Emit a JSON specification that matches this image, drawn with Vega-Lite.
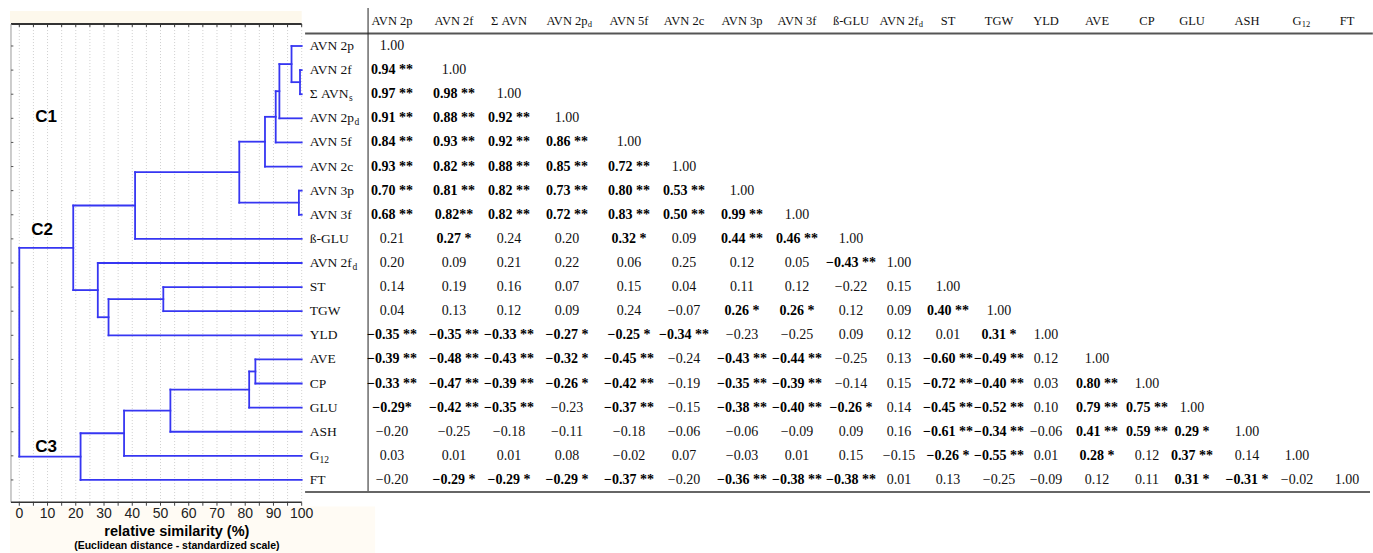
{
"$schema":"https://vega.github.io/schema/vega-lite/v6.json",
"width":1373,"height":553,"padding":0,"autosize":{"type":"none"},
"background":"#ffffff",
"config":{"view":{"stroke":null}},
"datasets":{
"leaves":[{"r":0,"name":"AVN 2p"},{"r":1,"name":"AVN 2f"},{"r":2,"name":"Σ AVN","sub":"s"},{"r":3,"name":"AVN 2p","sub":"d"},{"r":4,"name":"AVN 5f"},{"r":5,"name":"AVN 2c"},{"r":6,"name":"AVN 3p"},{"r":7,"name":"AVN 3f"},{"r":8,"name":"ß-GLU"},{"r":9,"name":"AVN 2f","sub":"d"},{"r":10,"name":"ST"},{"r":11,"name":"TGW"},{"r":12,"name":"YLD"},{"r":13,"name":"AVE"},{"r":14,"name":"CP"},{"r":15,"name":"GLU"},{"r":16,"name":"ASH"},{"r":17,"name":"G","sub":"12"},{"r":18,"name":"FT"}],
"cols":[{"j":0,"name":"AVN 2p"},{"j":1,"name":"AVN 2f"},{"j":2,"name":"Σ AVN"},{"j":3,"name":"AVN 2p","sub":"d"},{"j":4,"name":"AVN 5f"},{"j":5,"name":"AVN 2c"},{"j":6,"name":"AVN 3p"},{"j":7,"name":"AVN 3f"},{"j":8,"name":"ß-GLU"},{"j":9,"name":"AVN 2f","sub":"d"},{"j":10,"name":"ST"},{"j":11,"name":"TGW"},{"j":12,"name":"YLD"},{"j":13,"name":"AVE"},{"j":14,"name":"CP"},{"j":15,"name":"GLU"},{"j":16,"name":"ASH"},{"j":17,"name":"G","sub":"12"},{"j":18,"name":"FT"}],
"grid":[{"s":0},{"s":5},{"s":10},{"s":15},{"s":20},{"s":25},{"s":30},{"s":35},{"s":40},{"s":45},{"s":50},{"s":55},{"s":60},{"s":65},{"s":70},{"s":75},{"s":80},{"s":85},{"s":90},{"s":95},{"s":100}],
"clusters":[{"name":"C1","s":9.45,"r":2.94},{"name":"C2","s":8.04,"r":7.63},{"name":"C3","s":9.45,"r":16.63}],
"seg":[
{"x":100,"x2":96.4,"y":0,"y2":0},{"x":100,"x2":99.4,"y":1,"y2":1},{"x":100,"x2":99.4,"y":2,"y2":2},{"x":100,"x2":92.1,"y":3,"y2":3},{"x":100,"x2":90.8,"y":4,"y2":4},{"x":100,"x2":87.0,"y":5,"y2":5},{"x":100,"x2":99.0,"y":6,"y2":6},{"x":100,"x2":99.0,"y":7,"y2":7},{"x":100,"x2":41.0,"y":8,"y2":8},{"x":100,"x2":27.8,"y":9,"y2":9},{"x":100,"x2":51.0,"y":10,"y2":10},{"x":100,"x2":51.0,"y":11,"y2":11},{"x":100,"x2":31.6,"y":12,"y2":12},{"x":100,"x2":83.6,"y":13,"y2":13},{"x":100,"x2":83.6,"y":14,"y2":14},{"x":100,"x2":81.4,"y":15,"y2":15},{"x":100,"x2":53.5,"y":16,"y2":16},{"x":100,"x2":37.1,"y":17,"y2":17},{"x":100,"x2":21.7,"y":18,"y2":18},
{"x":99.4,"x2":96.4,"y":1.5,"y2":1.5},{"x":96.4,"x2":92.1,"y":0.75,"y2":0.75},{"x":92.1,"x2":90.8,"y":1.875,"y2":1.875},{"x":90.8,"x2":87.0,"y":2.9375,"y2":2.9375},{"x":87.0,"x2":77.9,"y":3.969,"y2":3.969},{"x":99.0,"x2":77.9,"y":6.5,"y2":6.5},{"x":77.9,"x2":41.0,"y":5.234,"y2":5.234},{"x":41.0,"x2":19.1,"y":6.617,"y2":6.617},{"x":51.0,"x2":31.6,"y":10.5,"y2":10.5},{"x":31.6,"x2":27.8,"y":11.25,"y2":11.25},{"x":27.8,"x2":19.1,"y":10.125,"y2":10.125},{"x":19.1,"x2":0,"y":8.371,"y2":8.371},{"x":83.6,"x2":81.4,"y":13.5,"y2":13.5},{"x":81.4,"x2":53.5,"y":14.25,"y2":14.25},{"x":53.5,"x2":37.1,"y":15.125,"y2":15.125},{"x":37.1,"x2":21.7,"y":16.063,"y2":16.063},{"x":21.7,"x2":0,"y":17.031,"y2":17.031},
{"x":99.4,"x2":99.4,"y":1,"y2":2},{"x":96.4,"x2":96.4,"y":0,"y2":1.5},{"x":92.1,"x2":92.1,"y":0.75,"y2":3},{"x":90.8,"x2":90.8,"y":1.875,"y2":4},{"x":87.0,"x2":87.0,"y":2.9375,"y2":5},{"x":99.0,"x2":99.0,"y":6,"y2":7},{"x":77.9,"x2":77.9,"y":3.969,"y2":6.5},{"x":41.0,"x2":41.0,"y":5.234,"y2":8},{"x":51.0,"x2":51.0,"y":10,"y2":11},{"x":31.6,"x2":31.6,"y":10.5,"y2":12},{"x":27.8,"x2":27.8,"y":9,"y2":11.25},{"x":19.1,"x2":19.1,"y":6.617,"y2":10.125},{"x":83.6,"x2":83.6,"y":13,"y2":14},{"x":81.4,"x2":81.4,"y":13.5,"y2":15},{"x":53.5,"x2":53.5,"y":14.25,"y2":16},{"x":37.1,"x2":37.1,"y":15.125,"y2":17},{"x":21.7,"x2":21.7,"y":16.063,"y2":18},{"x":0,"x2":0,"y":8.371,"y2":17.031}],
"cells":[
{"i":0,"j":0,"t":"1.00"},
{"i":1,"j":0,"t":"0.94 **"},{"i":1,"j":1,"t":"1.00"},
{"i":2,"j":0,"t":"0.97 **"},{"i":2,"j":1,"t":"0.98 **"},{"i":2,"j":2,"t":"1.00"},
{"i":3,"j":0,"t":"0.91 **"},{"i":3,"j":1,"t":"0.88 **"},{"i":3,"j":2,"t":"0.92 **"},{"i":3,"j":3,"t":"1.00"},
{"i":4,"j":0,"t":"0.84 **"},{"i":4,"j":1,"t":"0.93 **"},{"i":4,"j":2,"t":"0.92 **"},{"i":4,"j":3,"t":"0.86 **"},{"i":4,"j":4,"t":"1.00"},
{"i":5,"j":0,"t":"0.93 **"},{"i":5,"j":1,"t":"0.82 **"},{"i":5,"j":2,"t":"0.88 **"},{"i":5,"j":3,"t":"0.85 **"},{"i":5,"j":4,"t":"0.72 **"},{"i":5,"j":5,"t":"1.00"},
{"i":6,"j":0,"t":"0.70 **"},{"i":6,"j":1,"t":"0.81 **"},{"i":6,"j":2,"t":"0.82 **"},{"i":6,"j":3,"t":"0.73 **"},{"i":6,"j":4,"t":"0.80 **"},{"i":6,"j":5,"t":"0.53 **"},{"i":6,"j":6,"t":"1.00"},
{"i":7,"j":0,"t":"0.68 **"},{"i":7,"j":1,"t":"0.82**"},{"i":7,"j":2,"t":"0.82 **"},{"i":7,"j":3,"t":"0.72 **"},{"i":7,"j":4,"t":"0.83 **"},{"i":7,"j":5,"t":"0.50 **"},{"i":7,"j":6,"t":"0.99 **"},{"i":7,"j":7,"t":"1.00"},
{"i":8,"j":0,"t":"0.21"},{"i":8,"j":1,"t":"0.27 *"},{"i":8,"j":2,"t":"0.24"},{"i":8,"j":3,"t":"0.20"},{"i":8,"j":4,"t":"0.32 *"},{"i":8,"j":5,"t":"0.09"},{"i":8,"j":6,"t":"0.44 **"},{"i":8,"j":7,"t":"0.46 **"},{"i":8,"j":8,"t":"1.00"},
{"i":9,"j":0,"t":"0.20"},{"i":9,"j":1,"t":"0.09"},{"i":9,"j":2,"t":"0.21"},{"i":9,"j":3,"t":"0.22"},{"i":9,"j":4,"t":"0.06"},{"i":9,"j":5,"t":"0.25"},{"i":9,"j":6,"t":"0.12"},{"i":9,"j":7,"t":"0.05"},{"i":9,"j":8,"t":"−0.43 **"},{"i":9,"j":9,"t":"1.00"},
{"i":10,"j":0,"t":"0.14"},{"i":10,"j":1,"t":"0.19"},{"i":10,"j":2,"t":"0.16"},{"i":10,"j":3,"t":"0.07"},{"i":10,"j":4,"t":"0.15"},{"i":10,"j":5,"t":"0.04"},{"i":10,"j":6,"t":"0.11"},{"i":10,"j":7,"t":"0.12"},{"i":10,"j":8,"t":"−0.22"},{"i":10,"j":9,"t":"0.15"},{"i":10,"j":10,"t":"1.00"},
{"i":11,"j":0,"t":"0.04"},{"i":11,"j":1,"t":"0.13"},{"i":11,"j":2,"t":"0.12"},{"i":11,"j":3,"t":"0.09"},{"i":11,"j":4,"t":"0.24"},{"i":11,"j":5,"t":"−0.07"},{"i":11,"j":6,"t":"0.26 *"},{"i":11,"j":7,"t":"0.26 *"},{"i":11,"j":8,"t":"0.12"},{"i":11,"j":9,"t":"0.09"},{"i":11,"j":10,"t":"0.40 **"},{"i":11,"j":11,"t":"1.00"},
{"i":12,"j":0,"t":"−0.35 **"},{"i":12,"j":1,"t":"−0.35 **"},{"i":12,"j":2,"t":"−0.33 **"},{"i":12,"j":3,"t":"−0.27 *"},{"i":12,"j":4,"t":"−0.25 *"},{"i":12,"j":5,"t":"−0.34 **"},{"i":12,"j":6,"t":"−0.23"},{"i":12,"j":7,"t":"−0.25"},{"i":12,"j":8,"t":"0.09"},{"i":12,"j":9,"t":"0.12"},{"i":12,"j":10,"t":"0.01"},{"i":12,"j":11,"t":"0.31 *"},{"i":12,"j":12,"t":"1.00"},
{"i":13,"j":0,"t":"−0.39 **"},{"i":13,"j":1,"t":"−0.48 **"},{"i":13,"j":2,"t":"−0.43 **"},{"i":13,"j":3,"t":"−0.32 *"},{"i":13,"j":4,"t":"−0.45 **"},{"i":13,"j":5,"t":"−0.24"},{"i":13,"j":6,"t":"−0.43 **"},{"i":13,"j":7,"t":"−0.44 **"},{"i":13,"j":8,"t":"−0.25"},{"i":13,"j":9,"t":"0.13"},{"i":13,"j":10,"t":"−0.60 **"},{"i":13,"j":11,"t":"−0.49 **"},{"i":13,"j":12,"t":"0.12"},{"i":13,"j":13,"t":"1.00"},
{"i":14,"j":0,"t":"−0.33 **"},{"i":14,"j":1,"t":"−0.47 **"},{"i":14,"j":2,"t":"−0.39 **"},{"i":14,"j":3,"t":"−0.26 *"},{"i":14,"j":4,"t":"−0.42 **"},{"i":14,"j":5,"t":"−0.19"},{"i":14,"j":6,"t":"−0.35 **"},{"i":14,"j":7,"t":"−0.39 **"},{"i":14,"j":8,"t":"−0.14"},{"i":14,"j":9,"t":"0.15"},{"i":14,"j":10,"t":"−0.72 **"},{"i":14,"j":11,"t":"−0.40 **"},{"i":14,"j":12,"t":"0.03"},{"i":14,"j":13,"t":"0.80 **"},{"i":14,"j":14,"t":"1.00"},
{"i":15,"j":0,"t":"−0.29*"},{"i":15,"j":1,"t":"−0.42 **"},{"i":15,"j":2,"t":"−0.35 **"},{"i":15,"j":3,"t":"−0.23"},{"i":15,"j":4,"t":"−0.37 **"},{"i":15,"j":5,"t":"−0.15"},{"i":15,"j":6,"t":"−0.38 **"},{"i":15,"j":7,"t":"−0.40 **"},{"i":15,"j":8,"t":"−0.26 *"},{"i":15,"j":9,"t":"0.14"},{"i":15,"j":10,"t":"−0.45 **"},{"i":15,"j":11,"t":"−0.52 **"},{"i":15,"j":12,"t":"0.10"},{"i":15,"j":13,"t":"0.79 **"},{"i":15,"j":14,"t":"0.75 **"},{"i":15,"j":15,"t":"1.00"},
{"i":16,"j":0,"t":"−0.20"},{"i":16,"j":1,"t":"−0.25"},{"i":16,"j":2,"t":"−0.18"},{"i":16,"j":3,"t":"−0.11"},{"i":16,"j":4,"t":"−0.18"},{"i":16,"j":5,"t":"−0.06"},{"i":16,"j":6,"t":"−0.06"},{"i":16,"j":7,"t":"−0.09"},{"i":16,"j":8,"t":"0.09"},{"i":16,"j":9,"t":"0.16"},{"i":16,"j":10,"t":"−0.61 **"},{"i":16,"j":11,"t":"−0.34 **"},{"i":16,"j":12,"t":"−0.06"},{"i":16,"j":13,"t":"0.41 **"},{"i":16,"j":14,"t":"0.59 **"},{"i":16,"j":15,"t":"0.29 *"},{"i":16,"j":16,"t":"1.00"},
{"i":17,"j":0,"t":"0.03"},{"i":17,"j":1,"t":"0.01"},{"i":17,"j":2,"t":"0.01"},{"i":17,"j":3,"t":"0.08"},{"i":17,"j":4,"t":"−0.02"},{"i":17,"j":5,"t":"0.07"},{"i":17,"j":6,"t":"−0.03"},{"i":17,"j":7,"t":"0.01"},{"i":17,"j":8,"t":"0.15"},{"i":17,"j":9,"t":"−0.15"},{"i":17,"j":10,"t":"−0.26 *"},{"i":17,"j":11,"t":"−0.55 **"},{"i":17,"j":12,"t":"0.01"},{"i":17,"j":13,"t":"0.28 *"},{"i":17,"j":14,"t":"0.12"},{"i":17,"j":15,"t":"0.37 **"},{"i":17,"j":16,"t":"0.14"},{"i":17,"j":17,"t":"1.00"},
{"i":18,"j":0,"t":"−0.20"},{"i":18,"j":1,"t":"−0.29 *"},{"i":18,"j":2,"t":"−0.29 *"},{"i":18,"j":3,"t":"−0.29 *"},{"i":18,"j":4,"t":"−0.37 **"},{"i":18,"j":5,"t":"−0.20"},{"i":18,"j":6,"t":"−0.36 **"},{"i":18,"j":7,"t":"−0.38 **"},{"i":18,"j":8,"t":"−0.38 **"},{"i":18,"j":9,"t":"0.01"},{"i":18,"j":10,"t":"0.13"},{"i":18,"j":11,"t":"−0.25"},{"i":18,"j":12,"t":"−0.09"},{"i":18,"j":13,"t":"0.12"},{"i":18,"j":14,"t":"0.11"},{"i":18,"j":15,"t":"0.31 *"},{"i":18,"j":16,"t":"−0.31 *"},{"i":18,"j":17,"t":"−0.02"},{"i":18,"j":18,"t":"1.00"}]
},
"resolve":{"scale":{"x":"independent"}},
"layer":[
{"layer":[
 {"data":{"values":[{}]},"mark":{"type":"rect","fill":"#fdf8ec"},"encoding":{"x":{"datum":-3.3,"axis":null},"x2":{"datum":100},"y":{"datum":-1.452,"axis":null},"y2":{"datum":-0.95}}},
 {"data":{"values":[{}]},"mark":{"type":"rect","fill":"#fffbf4"},"encoding":{"x":{"datum":-3.3,"axis":null},"x2":{"datum":126},"y":{"datum":19.1,"axis":null},"y2":{"datum":21.03}}},
 {"data":{"name":"grid"},"mark":{"type":"rule","stroke":"#cfcfcf","strokeDash":[1,2],"strokeWidth":1},"encoding":{"x":{"field":"s","type":"quantitative","axis":null},"y":{"datum":-0.91,"axis":null},"y2":{"datum":18.93}}},
 {"data":{"name":"grid"},"mark":{"type":"rule","stroke":"#333333","strokeWidth":1},"encoding":{"x":{"field":"s","type":"quantitative","axis":null},"y":{"datum":-0.91,"axis":null},"y2":{"datum":-0.79}}},
 {"data":{"name":"grid"},"mark":{"type":"rule","stroke":"#444444","strokeWidth":1},"encoding":{"x":{"field":"s","type":"quantitative","axis":null},"y":{"datum":18.93,"axis":null},"y2":{"datum":19.07}}},
 {"data":{"name":"grid"},"transform":[{"filter":"datum.s % 10 == 0"}],"mark":{"type":"text","align":"center","baseline":"middle","fontSize":14,"font":"Liberation Sans","color":"#222222"},"encoding":{"x":{"field":"s","type":"quantitative","axis":null},"y":{"datum":19.4,"axis":null},"text":{"field":"s","type":"quantitative","format":"d"}}},
 {"data":{"values":[{}]},"mark":{"type":"rule","stroke":"#333333","strokeWidth":2},"encoding":{"x":{"datum":-2.94,"axis":null},"x2":{"datum":100},"y":{"datum":-0.91,"axis":null}}},
 {"data":{"values":[{}]},"mark":{"type":"rule","stroke":"#9a9a9a","strokeWidth":1},"encoding":{"x":{"datum":-2.94,"axis":null},"y":{"datum":-0.91,"axis":null},"y2":{"datum":18.93}}},
 {"data":{"values":[{}]},"mark":{"type":"rule","stroke":"#333333","strokeWidth":1.5},"encoding":{"x":{"datum":-2.94,"axis":null},"x2":{"datum":100},"y":{"datum":18.93,"axis":null}}},
 {"data":{"name":"leaves"},"mark":{"type":"rule","stroke":"#555555","strokeWidth":1},"encoding":{"x":{"datum":-2.94,"axis":null},"x2":{"datum":-2.1},"y":{"field":"r","type":"quantitative","axis":null}}},
 {"data":{"name":"seg"},"mark":{"type":"rule","stroke":"#3636f2","strokeWidth":1.8,"strokeCap":"square"},"encoding":{
   "x":{"field":"x","type":"quantitative","scale":{"domain":[-6.834,479.36],"nice":false,"zero":false},"axis":null},
   "x2":{"field":"x2"},
   "y":{"field":"y","type":"quantitative","scale":{"domain":[-1.908,21.03],"reverse":true,"nice":false,"zero":false},"axis":null},
   "y2":{"field":"y2"}}},
 {"data":{"name":"leaves"},"mark":{"type":"text","align":"left","baseline":"middle","dx":8,"fontSize":13.5,"font":"Liberation Serif","color":"#111111"},"encoding":{"x":{"datum":100,"axis":null},"y":{"field":"r","type":"quantitative","axis":null},"text":{"field":"name"}}},
 {"data":{"name":"leaves"},"transform":[{"filter":"datum.r==2"}],"mark":{"type":"text","align":"left","baseline":"middle","dx":47.4,"dy":4,"fontSize":9.5,"font":"Liberation Serif","color":"#111111"},"encoding":{"x":{"datum":100,"axis":null},"y":{"field":"r","type":"quantitative","axis":null},"text":{"field":"sub"}}},
 {"data":{"name":"leaves"},"transform":[{"filter":"datum.r==3"}],"mark":{"type":"text","align":"left","baseline":"middle","dx":52.8,"dy":4,"fontSize":9.5,"font":"Liberation Serif","color":"#111111"},"encoding":{"x":{"datum":100,"axis":null},"y":{"field":"r","type":"quantitative","axis":null},"text":{"field":"sub"}}},
 {"data":{"name":"leaves"},"transform":[{"filter":"datum.r==9"}],"mark":{"type":"text","align":"left","baseline":"middle","dx":50.7,"dy":4,"fontSize":9.5,"font":"Liberation Serif","color":"#111111"},"encoding":{"x":{"datum":100,"axis":null},"y":{"field":"r","type":"quantitative","axis":null},"text":{"field":"sub"}}},
 {"data":{"name":"leaves"},"transform":[{"filter":"datum.r==17"}],"mark":{"type":"text","align":"left","baseline":"middle","dx":17.7,"dy":4,"fontSize":9.5,"font":"Liberation Serif","color":"#111111"},"encoding":{"x":{"datum":100,"axis":null},"y":{"field":"r","type":"quantitative","axis":null},"text":{"field":"sub"}}},
 {"data":{"name":"clusters"},"mark":{"type":"text","align":"center","baseline":"middle","fontSize":17,"fontWeight":"bold","font":"Liberation Sans","color":"#000000"},"encoding":{"x":{"field":"s","type":"quantitative","axis":null},"y":{"field":"r","type":"quantitative","axis":null},"text":{"field":"name"}}},
 {"data":{"values":[{}]},"mark":{"type":"text","align":"center","baseline":"middle","fontSize":14.5,"fontWeight":"bold","font":"Liberation Sans","color":"#000000","text":"relative similarity (%)"},"encoding":{"x":{"datum":55.8,"axis":null},"y":{"datum":20.16,"axis":null}}},
 {"data":{"values":[{}]},"mark":{"type":"text","align":"center","baseline":"middle","fontSize":10.5,"fontWeight":"bold","font":"Liberation Sans","color":"#000000","text":"(Euclidean distance - standardized scale)"},"encoding":{"x":{"datum":55.8,"axis":null},"y":{"datum":20.74,"axis":null}}},
 {"data":{"values":[{}]},"mark":{"type":"rule","stroke":"#555555","strokeWidth":2},"encoding":{"x":{"datum":101.2,"axis":null},"x2":{"datum":479.3},"y":{"datum":-0.52,"axis":null}}},
 {"data":{"values":[{}]},"mark":{"type":"rule","stroke":"#222222","strokeWidth":1},"encoding":{"x":{"datum":123.5,"axis":null},"y":{"datum":-1.576,"axis":null},"y2":{"datum":18.5}}},
 {"data":{"values":[{}]},"mark":{"type":"rule","stroke":"#666666","strokeWidth":2},"encoding":{"x":{"datum":101.2,"axis":null},"x2":{"datum":478.3},"y":{"datum":18.5,"axis":null}}}
]},
{"layer":[
 {"data":{"name":"cells"},"transform":[{"filter":"indexof(datum.t,'*')<0"}],"mark":{"type":"text","align":"center","baseline":"middle","fontSize":14,"font":"Liberation Serif","color":"#111111"},"encoding":{
   "x":{"field":"j","type":"quantitative","scale":{"domain":[0,1,2,3,4,5,6,7,8,9,10,11,12,13,14,15,16,17,18],"range":[392,454,509,567,629,684,742,797,851,899,948,999,1046,1097,1147,1192,1247,1297,1347],"nice":false,"zero":false},"axis":null},
   "y":{"field":"i","type":"quantitative","axis":null},
   "text":{"field":"t"}}},
 {"data":{"name":"cells"},"transform":[{"filter":"indexof(datum.t,'*')>=0"}],"mark":{"type":"text","align":"center","baseline":"middle","fontSize":14,"fontWeight":"bold","font":"Liberation Serif","color":"#000000"},"encoding":{
   "x":{"field":"j","type":"quantitative","axis":null},
   "y":{"field":"i","type":"quantitative","axis":null},
   "text":{"field":"t"}}},
 {"data":{"name":"cols"},"mark":{"type":"text","align":"center","baseline":"middle","fontSize":12.5,"font":"Liberation Serif","color":"#111111"},"encoding":{
   "x":{"field":"j","type":"quantitative","axis":null},
   "y":{"datum":-1.037,"axis":null},
   "text":{"field":"name"}}},
 {"data":{"name":"cols"},"transform":[{"filter":"datum.j==3"}],"mark":{"type":"text","align":"left","baseline":"middle","dx":20.8,"dy":3.5,"fontSize":8.5,"font":"Liberation Serif","color":"#111111"},"encoding":{"x":{"field":"j","type":"quantitative","axis":null},"y":{"datum":-1.037,"axis":null},"text":{"field":"sub"}}},
 {"data":{"name":"cols"},"transform":[{"filter":"datum.j==9"}],"mark":{"type":"text","align":"left","baseline":"middle","dx":19.8,"dy":3.5,"fontSize":8.5,"font":"Liberation Serif","color":"#111111"},"encoding":{"x":{"field":"j","type":"quantitative","axis":null},"y":{"datum":-1.037,"axis":null},"text":{"field":"sub"}}},
 {"data":{"name":"cols"},"transform":[{"filter":"datum.j==17"}],"mark":{"type":"text","align":"left","baseline":"middle","dx":4.8,"dy":3.5,"fontSize":8.5,"font":"Liberation Serif","color":"#111111"},"encoding":{"x":{"field":"j","type":"quantitative","axis":null},"y":{"datum":-1.037,"axis":null},"text":{"field":"sub"}}}
]}
]
}
